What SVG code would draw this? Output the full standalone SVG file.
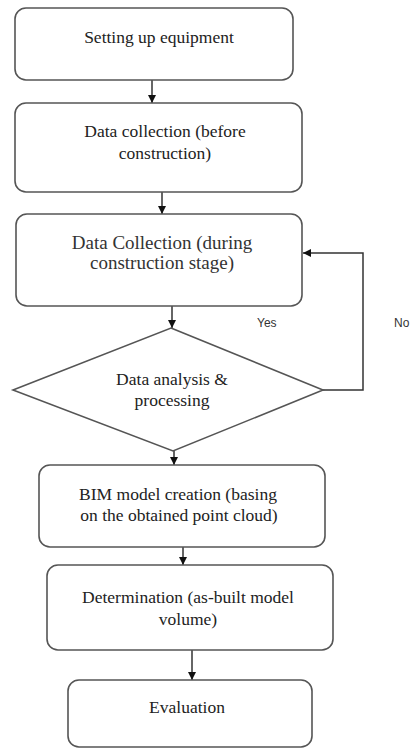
<svg xmlns="http://www.w3.org/2000/svg" width="411" height="749" viewBox="0 0 411 749">
<style>
.box{fill:#fff;stroke:#555;stroke-width:1.6}
.t{font-family:"Liberation Serif","Times New Roman",serif;font-size:17.5px;fill:#222;text-anchor:middle}
.t3{font-family:"Liberation Serif","Times New Roman",serif;font-size:19px;fill:#333;text-anchor:middle}
.lbl{font-family:"Liberation Sans",Arial,sans-serif;font-size:12px;fill:#333}
.c{fill:none;stroke:#333;stroke-width:1.5}
</style>
<defs>
<marker id="ah" viewBox="0 0 10 10" refX="10" refY="5" markerWidth="8" markerHeight="8" markerUnits="userSpaceOnUse" orient="auto">
<path d="M0,0 L10,5 L0,10 z" fill="#111"/>
</marker>
</defs>
<rect width="411" height="749" fill="#fff"/>
<g id="connectors">
<line class="c" x1="152" y1="80" x2="152" y2="103" marker-end="url(#ah)"/>
<line class="c" x1="162" y1="192" x2="162" y2="214" marker-end="url(#ah)"/>
<line class="c" x1="172" y1="306" x2="172" y2="328" marker-end="url(#ah)"/>
<polyline class="c" points="323,390 363,390 363,253 303,253" marker-end="url(#ah)"/>
<line class="c" x1="174" y1="451" x2="174" y2="465" marker-end="url(#ah)"/>
<line class="c" x1="183" y1="547" x2="183" y2="565" marker-end="url(#ah)"/>
<line class="c" x1="192" y1="650" x2="192" y2="680" marker-end="url(#ah)"/>
<text class="lbl" x="257" y="327">Yes</text>
<text class="lbl" x="394" y="327">No</text>
</g>
<g id="n1">
<rect class="box" x="15" y="8" width="278" height="72" rx="11"/>
<text class="t" x="159" y="43">Setting up equipment</text>
</g>
<g id="n2">
<rect class="box" x="15" y="103" width="287" height="89" rx="11"/>
<text class="t" x="165" y="137">Data collection (before</text>
<text class="t" x="165" y="159">construction)</text>
</g>
<g id="n3">
<rect class="box" x="16" y="214" width="286" height="92" rx="11"/>
<text class="t3" x="162" y="249">Data Collection (during</text>
<text class="t3" x="162" y="269">construction stage)</text>
</g>
<g id="n4">
<polygon class="box" points="171,328 323,390 173,451 13,390"/>
<text class="t" x="172" y="385">Data analysis &amp;</text>
<text class="t" x="172" y="406">processing</text>
</g>
<g id="n5">
<rect class="box" x="39" y="465" width="286" height="82" rx="11"/>
<text class="t" x="178" y="500">BIM model creation (basing</text>
<text class="t" x="179" y="521">on the obtained point cloud)</text>
</g>
<g id="n6">
<rect class="box" x="47" y="565" width="286" height="85" rx="11"/>
<text class="t" x="188" y="603">Determination (as-built model</text>
<text class="t" x="188" y="625">volume)</text>
</g>
<g id="n7">
<rect class="box" x="68" y="680" width="244" height="67" rx="11"/>
<text class="t" x="187" y="713">Evaluation</text>
</g>
</svg>
